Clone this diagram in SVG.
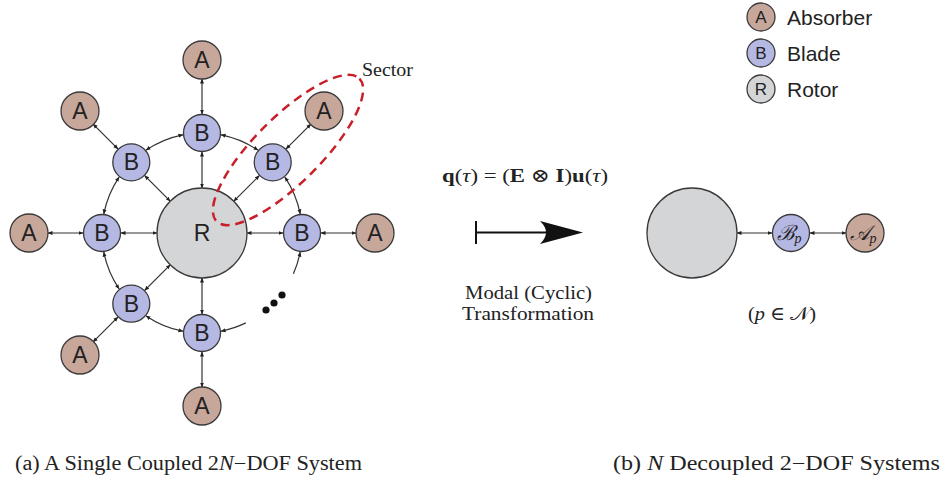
<svg xmlns="http://www.w3.org/2000/svg" width="943" height="481" viewBox="0 0 943 481">
<style>
.a{fill:#c8a79b;stroke:#3a3a3a;stroke-width:1.3}
.b{fill:#b5b8e3;stroke:#3a3a3a;stroke-width:1.3}
.r{fill:#d4d5d7;stroke:#3a3a3a;stroke-width:1.3}
.lbl{font-family:"Liberation Sans",Arial,sans-serif;font-size:23px;fill:#222;text-anchor:middle;dominant-baseline:central}
.leg{font-family:"Liberation Sans",Arial,sans-serif;font-size:17px;fill:#222;text-anchor:middle;dominant-baseline:central}
.legt{font-family:"Liberation Sans",Arial,sans-serif;font-size:21px;fill:#222}
.serif{font-family:"Liberation Serif","DejaVu Serif",serif;fill:#222}
.c{fill:none;stroke:#333;stroke-width:1.2;marker-start:url(#ah);marker-end:url(#ah)}
.ce{fill:none;stroke:#333;stroke-width:1.2;marker-end:url(#ah)}
</style>
<defs>
<marker id="ah" viewBox="0 0 10 10" refX="9" refY="5" markerWidth="5" markerHeight="5" orient="auto-start-reverse" markerUnits="userSpaceOnUse">
<path d="M0,1 L10,5 L0,9 z" fill="#222"/>
</marker>
</defs>
<rect width="943" height="481" fill="#fff"/>

<g id="connectors">
<line class="c" x1="202" y1="114" x2="202" y2="79"/>
<line class="c" x1="286.1" y1="148.9" x2="310.9" y2="124.1"/>
<line class="c" x1="321" y1="233" x2="356" y2="233"/>
<line class="c" x1="202" y1="352" x2="202" y2="387"/>
<line class="c" x1="117.9" y1="317.1" x2="93.1" y2="341.9"/>
<line class="c" x1="83" y1="233" x2="48" y2="233"/>
<line class="c" x1="117.9" y1="148.9" x2="93.1" y2="124.1"/>
<line class="c" x1="202" y1="188" x2="202" y2="152"/>
<line class="c" x1="233.8" y1="201.2" x2="259.3" y2="175.7"/>
<line class="c" x1="247" y1="233" x2="283" y2="233"/>
<line class="c" x1="202" y1="278" x2="202" y2="314"/>
<line class="c" x1="170.2" y1="264.8" x2="144.7" y2="290.3"/>
<line class="c" x1="157" y1="233" x2="121" y2="233"/>
<line class="c" x1="170.2" y1="201.2" x2="144.7" y2="175.7"/>
<path class="c" d="M221.1,134.8 A100,100 0 0 1 257.9,150.1"/>
<path class="c" d="M146.1,150.1 A100,100 0 0 1 182.9,134.8"/>
<path class="c" d="M103.8,213.9 A100,100 0 0 1 119.1,177.1"/>
<path class="c" d="M119.1,288.9 A100,100 0 0 1 103.8,252.1"/>
<path class="c" d="M182.9,331.2 A100,100 0 0 1 146.1,315.9"/>
<path class="c" d="M284.9,177.1 A100,100 0 0 1 300.2,213.9"/>
<path class="ce" d="M293.4,273.7 A100,100 0 0 0 300.2,252.1"/>
<path class="ce" d="M245.8,322.9 A100,100 0 0 1 221.1,331.2"/>
<line class="c" x1="737" y1="233" x2="772" y2="233"/>
<line class="c" x1="810" y1="233" x2="846" y2="233"/>
</g>

<g id="rotor"><circle class="r" cx="202" cy="233" r="45"/><text class="lbl" x="202" y="233">R</text></g>

<g id="b-top"><circle class="b" cx="202" cy="133" r="18.5"/><text class="lbl" x="202" y="133">B</text></g>
<g id="b-ur"><circle class="b" cx="272.7" cy="162.3" r="18.5"/><text class="lbl" x="272.7" y="162.3">B</text></g>
<g id="b-right"><circle class="b" cx="302" cy="233" r="18.5"/><text class="lbl" x="302" y="233">B</text></g>
<g id="b-bottom"><circle class="b" cx="202" cy="333" r="18.5"/><text class="lbl" x="202" y="333">B</text></g>
<g id="b-ll"><circle class="b" cx="131.3" cy="303.7" r="18.5"/><text class="lbl" x="131.3" y="303.7">B</text></g>
<g id="b-left"><circle class="b" cx="102" cy="233" r="18.5"/><text class="lbl" x="102" y="233">B</text></g>
<g id="b-ul"><circle class="b" cx="131.3" cy="162.3" r="18.5"/><text class="lbl" x="131.3" y="162.3">B</text></g>

<g id="a-top"><circle class="a" cx="202" cy="60" r="19"/><text class="lbl" x="202" y="60">A</text></g>
<g id="a-ur"><circle class="a" cx="324" cy="111" r="19"/><text class="lbl" x="324" y="111">A</text></g>
<g id="a-right"><circle class="a" cx="375" cy="233" r="19"/><text class="lbl" x="375" y="233">A</text></g>
<g id="a-bottom"><circle class="a" cx="202" cy="406" r="19"/><text class="lbl" x="202" y="406">A</text></g>
<g id="a-ll"><circle class="a" cx="80" cy="355" r="19"/><text class="lbl" x="80" y="355">A</text></g>
<g id="a-left"><circle class="a" cx="29" cy="233" r="19"/><text class="lbl" x="29" y="233">A</text></g>
<g id="a-ul"><circle class="a" cx="80" cy="111" r="19"/><text class="lbl" x="80" y="111">A</text></g>

<g id="ellipsis" fill="#111">
<circle cx="266" cy="310" r="3.6"/><circle cx="274" cy="303" r="3.6"/><circle cx="282" cy="295" r="3.6"/>
</g>

<g id="sector">
<ellipse cx="288" cy="150" rx="101" ry="33" transform="rotate(-45 288 150)" fill="none" stroke="#c8202a" stroke-width="2.5" stroke-dasharray="9,6"/>
<text class="serif" x="362" y="76" font-size="19" textLength="51" lengthAdjust="spacingAndGlyphs">Sector</text>
</g>

<g id="transform">
<text class="serif" x="442" y="182" font-size="19" textLength="166" lengthAdjust="spacingAndGlyphs"><tspan font-weight="bold">q</tspan>(<tspan font-style="italic">τ</tspan>) = (<tspan font-weight="bold">E</tspan> ⊗ <tspan font-weight="bold">I</tspan>)<tspan font-weight="bold">u</tspan>(<tspan font-style="italic">τ</tspan>)</text>
<line x1="476" y1="221" x2="476" y2="244" stroke="#111" stroke-width="2"/>
<line x1="476" y1="232.5" x2="555" y2="232.5" stroke="#111" stroke-width="2"/>
<path d="M583,232.5 L540,221 Q552,232.5 540,244 Z" fill="#111"/>
<text class="serif" x="465" y="299" font-size="18" textLength="127" lengthAdjust="spacingAndGlyphs">Modal (Cyclic)</text>
<text class="serif" x="462" y="320" font-size="18" textLength="132" lengthAdjust="spacingAndGlyphs">Transformation</text>
</g>

<g id="rotor-p"><circle class="r" cx="692" cy="233" r="45"/></g>
<g id="blade-p"><circle class="b" cx="791" cy="233" r="18.5"/><text class="serif" x="789" y="240" font-size="21" font-style="italic" text-anchor="middle">ℬ<tspan font-size="14" dy="3">p</tspan></text></g>
<g id="absorber-p"><circle class="a" cx="865" cy="233" r="19"/><text class="serif" x="863" y="240" font-size="21" font-style="italic" text-anchor="middle">𝒜<tspan font-size="14" dy="3">p</tspan></text></g>
<text class="serif" x="748" y="320" font-size="19" textLength="68" lengthAdjust="spacingAndGlyphs">(<tspan font-style="italic">p</tspan> ∈ 𝒩)</text>

<g id="legend">
<g id="leg-a"><circle class="a" cx="761" cy="17" r="14"/><text class="leg" x="761" y="17">A</text><text class="legt" x="787" y="25">Absorber</text></g>
<g id="leg-b"><circle class="b" cx="761" cy="53" r="14"/><text class="leg" x="761" y="53">B</text><text class="legt" x="787" y="61">Blade</text></g>
<g id="leg-r"><circle class="r" cx="761" cy="89" r="14"/><text class="leg" x="761" y="89">R</text><text class="legt" x="787" y="97">Rotor</text></g>
</g>

<text class="serif" x="15" y="470" font-size="20" textLength="347" lengthAdjust="spacingAndGlyphs">(a) A Single Coupled 2<tspan font-style="italic">N</tspan>−DOF System</text>
<text class="serif" x="613" y="470" font-size="20" textLength="327" lengthAdjust="spacingAndGlyphs">(b) <tspan font-style="italic">N</tspan> Decoupled 2−DOF Systems</text>
</svg>
